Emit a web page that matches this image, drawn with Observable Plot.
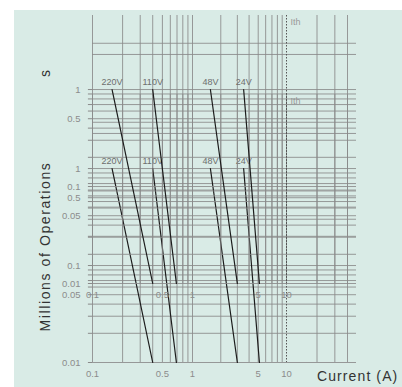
<!DOCTYPE html>
<html><head><meta charset="utf-8">
<script src="https://cdn.jsdelivr.net/npm/d3@7"></script>
<script src="https://cdn.jsdelivr.net/npm/@observablehq/plot@0.6"></script>
<style>
body{margin:0;background:#fff;}
#wrap{position:relative;width:402px;height:387px;overflow:hidden;}
#panel{position:absolute;left:14px;top:10px;right:0;bottom:0;background:#d9ebe6;}
#wrap svg{position:absolute;left:0;top:0;background:transparent;}
</style></head><body><div id="wrap"><div id="panel"></div></div>
<script>
// ---- data ----
const voltages = ["220V", "110V", "48V", "24V"];
const currentAtLife1 = [0.157, 0.4, 1.55, 3.5];     // A, at 1 million operations
const currentAtLife001 = [0.4, 0.69, 3.0, 5.15];    // A, at 0.01 million operations
const lifeHigh = 1, lifeLow = 0.01;
const ratedCurrent = 10;                             // Ith
const gridCurrents = [0.1,0.2,0.3,0.4,0.5,0.6,0.7,0.8,0.9,1,2,3,4,5,6,7,8,9,20,30,40];
const gridLives = [0.01,0.02,0.03,0.04,0.05,0.06,0.07,0.08,0.09,0.1,0.2,0.3,0.4,0.5,0.6,0.7,0.8,0.9,1,2.3,3];
const yTickLabels = [1, 0.5, 0.1, 0.05, 0.01];
const xTickLabels = [0.1, 0.5, 1, 5, 10];
const yTitle = "Millions of Operations";
const xTitle = "Current (A)";

const curves = voltages.flatMap((v, i) => [
  {v, I: currentAtLife1[i], L: lifeHigh},
  {v, I: currentAtLife001[i], L: lifeLow}
]);

function chartCopy(marginTop, marginBottom, full) {
  const marks = [
    Plot.ruleY(gridLives, {stroke: "#8a8a8a", strokeWidth: 1, strokeOpacity: 0.85}),
    Plot.ruleX(gridCurrents, {stroke: "#8a8a8a", strokeWidth: 1, strokeOpacity: 0.85}),
    Plot.ruleX([ratedCurrent], {stroke: "#555", strokeDasharray: "1.5,1.5"}),
    Plot.text(["Ith"], {x: ratedCurrent, y: 4.9, text: d => d, dx: 4, textAnchor: "start", fill: "#999", fontSize: 9}),
    Plot.line(curves, {x: "I", y: "L", z: "v", stroke: "#1c1c1c", strokeWidth: 1.2}),
    Plot.text(voltages, {x: (d, i) => currentAtLife1[i], y: lifeHigh, text: d => d, dy: -7, fill: "#6e6e6e", fontSize: 9}),
    Plot.ruleY(gridLives.filter(d => d <= 1), {x1: 0.091, x2: 0.1, stroke: "#8a8a8a"}),
    Plot.text(yTickLabels, {y: d => d, text: d => String(d), frameAnchor: "left", textAnchor: "end", dx: -12, fill: "#8c8c8c", fontSize: 9.5}),
    Plot.text(xTickLabels, {x: d => d, text: d => String(d), frameAnchor: "bottom", dy: 14, fill: "#8c8c8c", fontSize: 9.5})
  ];
  if (full) {
    marks.push(Plot.text([yTitle], {frameAnchor: "left", text: d => d, dx: -47, dy: 18, rotate: -90, textAnchor: "middle",
      fontSize: 14, fill: "#333", fontFamily: "Liberation Sans"}));
    marks.push(Plot.text([xTitle], {x: 20, y: lifeLow, text: d => d, dy: 14, textAnchor: "start",
      fontSize: 14, fill: "#333", fontFamily: "Liberation Sans"}));
  } else {
    marks.push(Plot.text(["s"], {frameAnchor: "left", text: d => d, dx: -47, dy: -76, rotate: -90, textAnchor: "middle",
      fontSize: 14, fill: "#333", fontFamily: "Liberation Sans"}));
  }
  return Plot.plot({
    width: 402, height: 387,
    marginLeft: 92, marginRight: 46, marginTop, marginBottom,
    style: {background: "transparent", fontFamily: "Liberation Sans Narrow, Liberation Sans, sans-serif", fontSize: "9px", color: "#8c8c8c"},
    x: {type: "log", domain: [0.1, 1, 10, 40], range: [92, 192, 286, 347], axis: null},
    y: {type: "log", domain: [0.01, 5.8], axis: null},
    marks
  });
}

const wrap = document.getElementById("wrap");
const lower = chartCopy(94, 25, true);
const upper = chartCopy(15, 104, false);
wrap.appendChild(lower);
wrap.appendChild(upper);
d3.select(lower).selectAll("text")
  .filter(function() { return this.textContent === yTitle; })
  .attr("letter-spacing", "1.6px");
d3.select(lower).selectAll("text")
  .filter(function() { return this.textContent === xTitle; })
  .attr("letter-spacing", "1.1px");
</script></body></html>
